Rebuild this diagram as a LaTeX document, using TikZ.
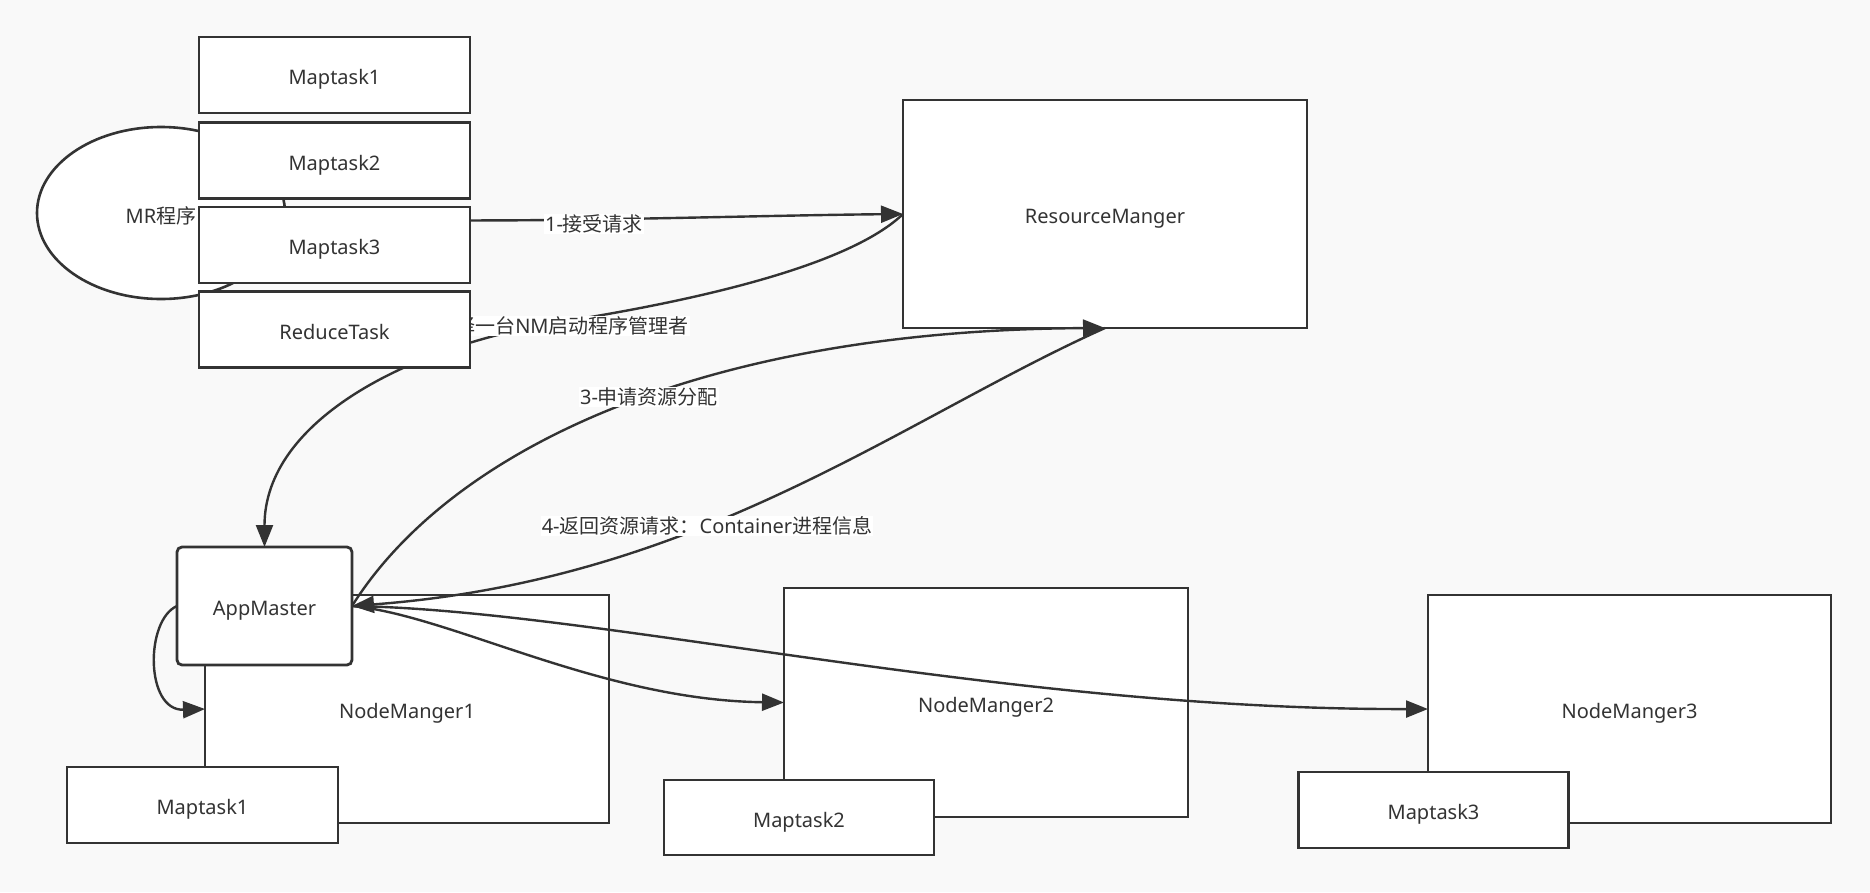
\documentclass[tikz,border=0pt]{standalone}
\usepackage{fontspec}
\setmainfont{Noto Sans}
\newfontfamily\cjk{Noto Sans CJK SC}
\usetikzlibrary{arrows.meta,shapes.geometric}
\definecolor{bgc}{HTML}{F9F9F9}
\definecolor{linec}{HTML}{333333}
\newcommand\fsz{\fontsize{20pt}{24pt}\selectfont}
\begin{document}
\begin{tikzpicture}[x=1pt,y=-1pt,
  box/.style={draw=linec,fill=white,line width=2.8pt,inner sep=0pt,outer sep=0pt,font=\fsz,text=linec,text height=19pt,text depth=0pt},
  oval/.style={ellipse,draw=linec,fill=white,line width=2.6pt,inner sep=0pt,outer sep=0pt,font=\fsz,text=linec,text height=20pt,text depth=0pt},
  conn/.style={draw=linec,line width=2.4pt,-{Triangle[length=22pt,width=17pt]}},
  lbl/.style={fill=white,inner sep=1pt,font=\fsz,text=linec}]
\fill[bgc] (0,0) rectangle (1870,892);
\useasboundingbox (0,0) rectangle (1870,892);
% main boxes
\node[box,minimum width=404pt,minimum height=228pt] (RM) at (1105,214) {ResourceManger};
\node[box,minimum width=404pt,minimum height=228pt] (NM1) at (407,709) {NodeManger1};
\node[box,rounded corners=5pt,minimum width=175pt,minimum height=118pt] (AM) at (264.5,606) {AppMaster};
\node[oval,minimum width=248pt,minimum height=172pt] (MR) at (161,213) {MR{\cjk 程序}};
% step 1 and 2 connectors (partly behind task boxes)
\draw[conn] (MR.east) .. controls (400,228) and (700,216) .. (RM.west);
\node[lbl] (L1) at (594,224) {1-{\cjk 接受请求}};
\draw[conn] (RM.west) .. controls (850,265) and (700,300) .. (560,322)
  .. controls (410,346) and (264.5,420) .. (AM.north);
\node[lbl] (L2) at (553,326) {2-{\cjk 选择一台}NM{\cjk 启动程序管理者}};
% task boxes
\node[box,minimum width=271pt,minimum height=76pt] (T1) at (334.5,75) {Maptask1};
\node[box,minimum width=271pt,minimum height=76pt] (T2) at (334.5,160.5) {Maptask2};
\node[box,minimum width=271pt,minimum height=76pt] (T3) at (334.5,245) {Maptask3};
\node[box,minimum width=271pt,minimum height=76pt] (RT) at (334.5,329.5) {ReduceTask};
% step 3 and 4
\draw[conn] (AM.east) .. controls (450,450) and (700,330) .. (RM.south);
\node[lbl] (L3) at (649,397) {3-{\cjk 申请资源分配}};
\draw[conn] (RM.south) .. controls (900,420) and (700,580) .. (AM.east);
\node[lbl] (L4) at (707,526) {4-{\cjk 返回资源请求：}Container{\cjk 进程信息}};
% node managers
\node[box,minimum width=404pt,minimum height=229pt] (NM2) at (986,702.5) {NodeManger2};
\node[box,minimum width=403pt,minimum height=228pt] (NM3) at (1629.5,709) {NodeManger3};
\draw[conn] (AM.east) .. controls (450,615) and (600,700) .. (NM2.west);
\draw[conn] (AM.east) .. controls (600,610) and (1000,710) .. (NM3.west);
\draw[conn] (AM.west) .. controls (145,620) and (145,711) .. (NM1.west);
% bottom map tasks
\node[box,minimum width=271pt,minimum height=76pt] (B1) at (202.5,805) {Maptask1};
\node[box,minimum width=270pt,minimum height=75pt] (B2) at (799,817.5) {Maptask2};
\node[box,minimum width=270pt,minimum height=76pt] (B3) at (1433.5,810) {Maptask3};
\end{tikzpicture}
\end{document}
